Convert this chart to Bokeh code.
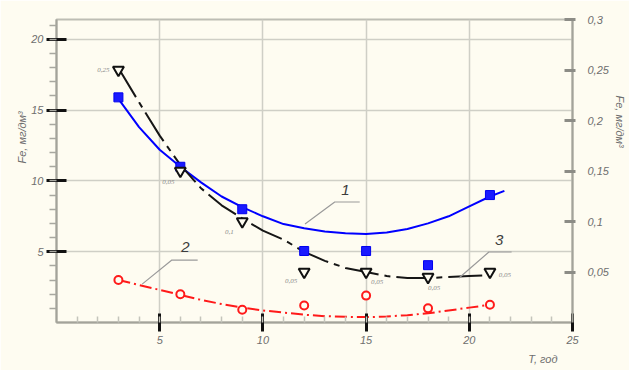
from bokeh.plotting import figure
from bokeh.models import (Range1d, LinearAxis, FixedTicker, ColumnDataSource,
                          Label, LabelSet, CustomJSTickFormatter, Title)
from bokeh.embed import file_html
from bokeh.resources import INLINE

# ---------------- data ----------------
years = [3, 6, 9, 12, 15, 18, 21]
fe_curve1 = [15.9, 11.0, 8.0, 5.05, 5.05, 4.05, 9.0]      # blue squares, left axis
fe_curve2 = [3.0, 2.0, 0.9, 1.2, 1.9, 1.0, 1.25]          # red circles, left axis
fe_curve3 = [0.25, 0.15, 0.10, 0.05, 0.05, 0.045, 0.05]   # black triangles, right axis
curve3_point_labels = ["0,25", "0,05", "0,1", "0,05", "0,05", "0,05", "0,05"]

trend1_x = [3, 4, 5, 6, 7, 8, 9, 10, 11, 12, 13, 14, 15, 16, 17, 18, 19, 20, 21, 21.7]
trend1_y = [15.8, 13.8, 12.2, 11.0, 9.9, 8.9, 8.15, 7.5, 6.95, 6.65, 6.42, 6.3, 6.25,
            6.35, 6.6, 7.0, 7.5, 8.2, 8.9, 9.3]
trend2_x = [3, 4, 5, 6, 7, 8, 9, 10, 11, 12, 13, 14, 15, 16, 17, 18, 19, 20, 21]
trend2_y = [3.0, 2.65, 2.3, 1.95, 1.6, 1.3, 1.05, 0.85, 0.7, 0.55, 0.45, 0.4, 0.38,
            0.42, 0.52, 0.65, 0.85, 1.05, 1.25]
trend3_x = [3, 4, 5, 6, 7, 8, 9, 10, 11, 12, 13, 14, 15, 16, 17, 18, 19, 20, 21]
trend3_y = [0.252, 0.218, 0.185, 0.156, 0.133, 0.116, 0.103, 0.091, 0.082, 0.07, 0.061,
            0.054, 0.05, 0.046, 0.044, 0.044, 0.045, 0.046, 0.047]

x_ticks = [5, 10, 15, 20, 25]
left_ticks = [5, 10, 15, 20]
right_ticks = [0.05, 0.1, 0.15, 0.2, 0.25, 0.3]

y_title = "Fe, мг/дм³"
x_title = "T, год"

callout_names = ["1", "2", "3"]
callout_text_x = [14.0, 6.25, 21.45]
callout_text_y = [9.35, 5.3, 5.85]
leader1_x = [12.04, 13.48, 14.69]
leader1_y = [6.96, 8.51, 8.51]
leader2_x = [4.15, 5.59, 6.84]
leader2_y = [2.71, 4.41, 4.41]
leader3_x = [19.5, 20.95, 22.05]
leader3_y = [3.14, 4.98, 4.98]

# ---------------- styling ----------------
BG = "#fefcf1"
GRID = "#cfcfc6"
AXIS = "#a3a39a"
TXT = "#6e6e6e"
FONT = "Liberation Sans"

p = figure(width=629, height=370, output_backend="svg", toolbar_location=None,
           x_range=Range1d(0, 25), y_range=Range1d(0, 21.4),
           min_border_left=56, min_border_right=54, min_border_top=19,
           min_border_bottom=48)
p.extra_y_ranges = {"r": Range1d(0, 0.3)}
p.background_fill_color = BG
p.border_fill_color = BG
p.outline_line_color = "#bdbdb4"
p.outline_line_width = 2

# grid
p.xgrid.ticker = FixedTicker(ticks=[5, 10, 15, 20])
p.ygrid.ticker = FixedTicker(ticks=left_ticks)
for g in (p.xgrid, p.ygrid):
    g.grid_line_color = GRID
    g.grid_line_width = 1.5

# bottom axis
xa = p.xaxis[0]
xa.ticker = FixedTicker(ticks=x_ticks, minor_ticks=list(range(1, 25)))
xa.axis_line_color = AXIS
xa.axis_line_width = 2
xa.major_tick_line_color = "#111111"
xa.major_tick_line_width = 3
xa.major_tick_in = 9
xa.major_tick_out = 9
xa.minor_tick_line_color = "#c4c4bb"
xa.minor_tick_line_width = 1.5
xa.minor_tick_in = 6
xa.minor_tick_out = 0
xa.major_label_standoff = 4

# left axis
ya = p.yaxis[0]
ya.ticker = FixedTicker(ticks=left_ticks, minor_ticks=list(range(1, 22)))
ya.axis_line_color = AXIS
ya.axis_line_width = 2
ya.major_tick_line_color = "#111111"
ya.major_tick_line_width = 3
ya.major_tick_in = 10
ya.major_tick_out = 10
ya.minor_tick_line_color = "#a8a8a0"
ya.minor_tick_line_width = 1.5
ya.minor_tick_in = 0
ya.minor_tick_out = 7
ya.major_label_standoff = 3

# right axis
ra = LinearAxis(y_range_name="r")
ra.ticker = FixedTicker(ticks=right_ticks)
ra.formatter = CustomJSTickFormatter(
    code="return tick.toFixed(2).replace(/0$/, '').replace('.', ',');")
ra.axis_line_color = AXIS
ra.axis_line_width = 2
ra.major_tick_line_color = "#8c8c86"
ra.major_tick_line_width = 3
ra.major_tick_in = 8
ra.major_tick_out = 3
ra.minor_tick_line_color = None
ra.major_label_standoff = 12
p.add_layout(ra, "right")

for ax in (xa, ya, ra):
    ax.major_label_text_font = FONT
    ax.major_label_text_font_style = "italic"
    ax.major_label_text_font_size = "11px"
    ax.major_label_text_color = TXT


# axis titles as side titles
def side_title(text, align, offset, standoff):
    return Title(text=text, align=align, offset=offset, standoff=standoff,
                 text_font=FONT, text_font_style="italic",
                 text_font_size="11px", text_color=TXT)


p.add_layout(side_title(y_title, "left", 159, 2), "left")
p.add_layout(side_title(x_title, "right", 15, 9), "below")
p.add_layout(side_title(y_title, "left", 76, 4), "right")

# trend lines
p.line(trend2_x, trend2_y, line_color="#ff1a1a", line_width=2, line_dash="12 4 2 4")
p.line(trend1_x, trend1_y, line_color="#0000ff", line_width=2)
p.line(trend3_x, trend3_y, line_color="#161616", line_width=2, line_dash="34 6 6 6",
       y_range_name="r")

# markers
p.scatter(years, fe_curve2, marker="circle", size=8, fill_color=BG,
          line_color="#ff1a1a", line_width=2)
p.scatter(years, fe_curve1, marker="square", size=9, fill_color="#1a1aff",
          line_color="#0000ee", line_width=1)
p.scatter(years, fe_curve3, marker="inverted_triangle", size=11, fill_color=BG,
          line_color="#111111", line_width=2, y_range_name="r")

# value labels beside triangles
label_dx = [-15, -12, -13, -13, 11, 6, 15]
label_dy = [0, -11, -10, -9, -10, -11, -3]
src3 = ColumnDataSource(dict(x=years, y=fe_curve3, t=curve3_point_labels,
                             dx=label_dx, dy=label_dy))
p.add_layout(LabelSet(x="x", y="y", text="t", source=src3, y_range_name="r",
                      x_offset="dx", y_offset="dy", text_align="center",
                      text_baseline="middle", text_font_size="7px",
                      text_color="#8a8a8a", text_font=FONT, text_font_style="italic"))

# callouts
for lx, ly in ((leader1_x, leader1_y), (leader2_x, leader2_y), (leader3_x, leader3_y)):
    p.line(lx, ly, line_color="#9a9a9a", line_width=1.2)
for name, tx, ty in zip(callout_names, callout_text_x, callout_text_y):
    p.add_layout(Label(x=tx, y=ty, text=name, text_align="center",
                       text_baseline="middle", text_font_size="15px",
                       text_font=FONT, text_font_style="italic",
                       text_color="#3c3c3c"))

open("out.html", "w").write(file_html(p, INLINE))
